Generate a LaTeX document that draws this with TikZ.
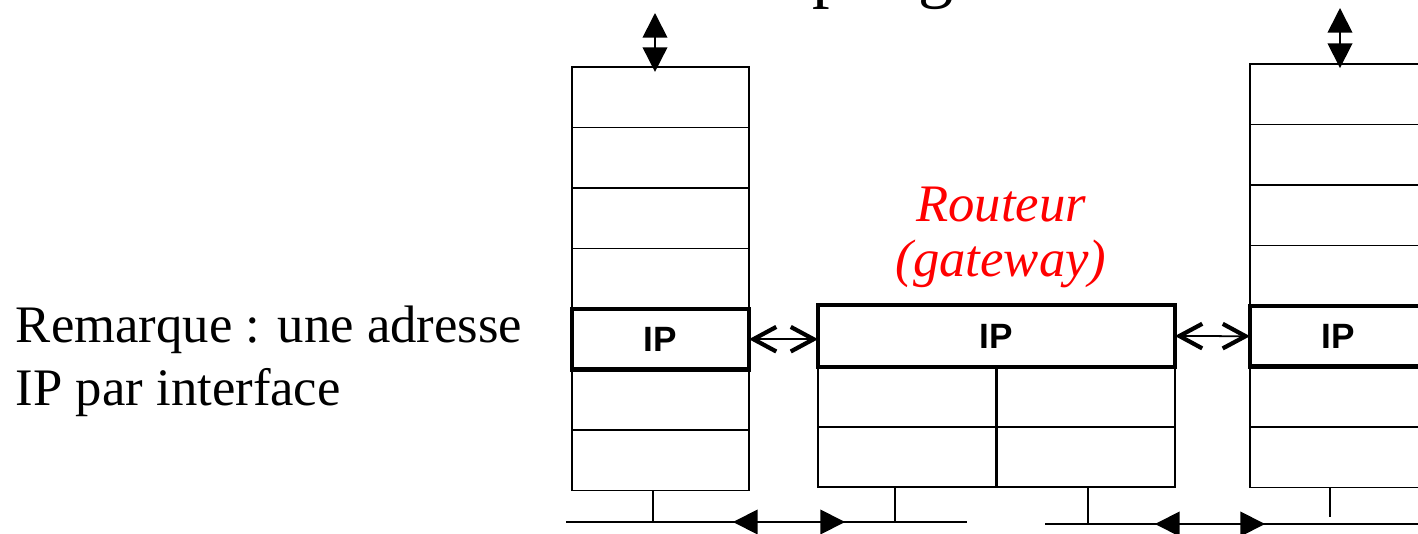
\documentclass[tikz,border=0pt]{standalone}
\usepackage{fontspec}
\setmainfont{Liberation Serif}
\newfontfamily\ipfont{Liberation Sans}
\usetikzlibrary{arrows.meta,positioning}

\begin{document}
\begin{tikzpicture}[x=0.02cm,y=-0.02cm,node distance=0cm,line width=1pt,
>={Triangle[length=14pt,width=14pt]}]
\tikzstyle{layer}=[draw,rectangle,outer sep=0pt,inner sep=0pt,minimum width=3.54cm,minimum height=1.21cm]
\tikzstyle{iplayer}=[layer,line width=2.6pt,font=\ipfont\bfseries\fontsize{20}{24}\selectfont]
\tikzstyle{half}=[layer,minimum width=3.56cm,minimum height=1.2cm]
\tikzstyle{peer}=[{Straight Barb[length=13pt,width=14pt,line width=2.4pt]}-{Straight Barb[length=13pt,width=14pt,line width=2.4pt]},line width=1pt]
\tikzstyle{wire}=[line width=1.1pt]

\useasboundingbox (0,0) rectangle (1418,534);

% title (cut off at the top)
\node[font=\fontsize{40}{40}\selectfont,anchor=base west,inner sep=0pt] (titp) at (812,-6) {p};
\node[font=\fontsize{40}{40}\selectfont,anchor=base west,inner sep=0pt] (titg) at (918,-6) {g};

% host A
\node[layer]   (a1) at (660.5,97.25) {};
\node[layer]   (a2) [below=of a1] {};
\node[layer]   (a3) [below=of a2] {};
\node[layer]   (a4) [below=of a3] {};
\node[iplayer] (aip) [below=of a4] {IP};
\node[layer]   (a6) [below=of aip] {};
\node[layer]   (a7) [below=of a6] {};

% host B
\node[layer]   (b1) at (1338.5,94.25) {};
\node[layer]   (b2) [below=of b1] {};
\node[layer]   (b3) [below=of b2] {};
\node[layer]   (b4) [below=of b3] {};
\node[iplayer] (bip) [below=of b4] {IP};
\node[layer]   (b6) [below=of bip] {};
\node[layer]   (b7) [below=of b6] {};

% router
\node[iplayer,minimum width=7.14cm,minimum height=1.24cm] (rip) at (996.5,336) {IP};
\node[half,anchor=north west] (rl1) at (rip.south west) {};
\node[half]                   (rl2) [below=of rl1] {};
\node[half,anchor=north east] (rr1) at (rip.south east) {};
\node[half]                   (rr2) [below=of rr1] {};
\node[red,font=\itshape\fontsize{30}{31.7}\selectfont,align=center,inner sep=0pt] (rlabel) [above=0.32cm of rip,xshift=0.09cm] {Routeur\\(gateway)};

% remark
\node[font=\fontsize{30}{35.7}\selectfont,align=left,inner sep=0pt,anchor=north west] (note) at (15,305) {Remarque : une adresse\\IP par interface};

% applications
\coordinate (upA) at (655,13);
\coordinate (upB) at (1340,8);
\draw[<->,shorten >=-2.8pt] (upA) -- (upA |- a1.north);
\draw[<->,shorten >=-2.3pt] (upB) -- (upB |- b1.north);

% IP to IP
\draw[peer] (aip.east) -- (aip.east -| rip.west);
\draw[peer] (rip.east) -- (bip.west);

% networks
\coordinate (lanA-w) at (566,522);
\coordinate (lanA-e) at (967,522);
\coordinate (lanB-w) at (1045,524);
\coordinate (lanB-e) at (1418,524);
\draw[wire] (lanA-w) -- (lanA-e);
\draw[wire] (lanB-w) -- (lanB-e);
\coordinate (hopA-w) at (733,522);
\coordinate (hopA-e) at (845,522);
\coordinate (hopB-w) at (1155,524);
\coordinate (hopB-e) at (1265,524);
\draw[wire,<->] (hopA-w) -- (hopA-e);
\draw[wire,<->] (hopB-w) -- (hopB-e);

\coordinate (stemA)  at ([xshift=-0.15cm]a7.south);
\coordinate (stemRl) at ([xshift=-0.24cm]rl2.south);
\coordinate (stemRr) at ([xshift=0.04cm]rr2.south);
\coordinate (stemB)  at ([xshift=-0.17cm]b7.south);
\draw[wire] (stemA) -- (stemA |- lanA-w);
\draw[wire] (stemRl) -- (stemRl |- lanA-w);
\draw[wire] (stemRr) -- (stemRr |- lanB-w);
\draw[wire,shorten >=4pt] (stemB) -- (stemB |- lanB-w);
\end{tikzpicture}
\end{document}
